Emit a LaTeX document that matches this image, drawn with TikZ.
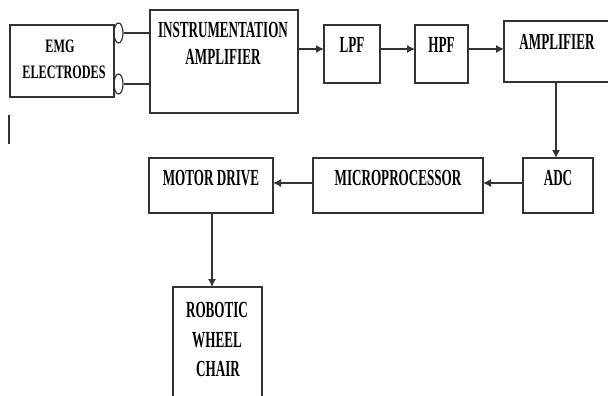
\documentclass[tikz,border=0pt]{standalone}
\usepackage{fontspec}
\setmainfont{Liberation Serif}[FakeStretch=0.57]
\newfontfamily\emgfont{Liberation Serif}[FakeStretch=0.64]
\usetikzlibrary{shapes.geometric,arrows.meta}
\tikzset{
  box/.style={draw=black!80, line width=1.3pt, inner sep=0pt, outer sep=0pt},
  lbl/.style={inner sep=0pt, font=\fontsize{23}{23}\selectfont\bfseries},
  slbl/.style={inner sep=0pt, font=\emgfont\fontsize{19}{19}\selectfont\bfseries},
  arr/.style={draw=black!80, line width=1.3pt, -{Latex[length=8pt,width=8pt]}},
  wire/.style={draw=black!80, line width=1.3pt},
  term/.style={draw=black!80, line width=1.2pt, ellipse, inner sep=0pt, minimum width=9pt, minimum height=20pt}
}
\begin{document}
\begin{tikzpicture}[x=1pt,y=-1pt]
\useasboundingbox (0,0) rectangle (608,396);
\clip (0,0) rectangle (608,396);
% boxes
\node[box, minimum width=104pt, minimum height=72pt] (EMG) at (62,61) {};
\node[box, minimum width=148pt, minimum height=103pt] (INA) at (224,61.5) {};
\node[box, minimum width=56pt, minimum height=58pt] (LPF) at (352,54) {};
\node[box, minimum width=53pt, minimum height=58pt] (HPF) at (441.5,54) {};
\node[box, minimum width=110pt, minimum height=61pt] (AMP) at (559,51.5) {};
\node[box, minimum width=70pt, minimum height=55pt] (ADC) at (558,185.5) {};
\node[box, minimum width=170pt, minimum height=55pt] (MCU) at (398,185.5) {};
\node[box, minimum width=124pt, minimum height=55pt] (MOT) at (211,185.5) {};
\node[box, minimum width=89pt, minimum height=118pt] (ROB) at (217.5,346) {};
% labels
\node[slbl] (t1) at (60,46) {EMG};
\node[slbl] (t2) at (64,72.5) {ELECTRODES};
\node[lbl] (t3) at (223,30) {INSTRUMENTATION};
\node[lbl] (t4) at (223,57) {AMPLIFIER};
\node[lbl] (t5) at (352,45) {LPF};
\node[lbl] (t6) at (441.5,45) {HPF};
\node[lbl] (t7) at (557,42) {AMPLIFIER};
\node[lbl] (t8) at (558,178) {ADC};
\node[lbl] (t9) at (398,178) {MICROPROCESSOR};
\node[lbl] (t10) at (211,178) {MOTOR DRIVE};
\node[lbl] (t11) at (217,310) {ROBOTIC};
\node[lbl] (t12) at (217,340) {WHEEL};
\node[lbl] (t13) at (218,369) {CHAIR};
% electrode terminals
\node[term] (c1) at (118.5,33) {};
\node[term] (c2) at (118.5,84) {};
\draw[wire] (c1.east) -- (c1.east -| INA.west);
\draw[wire] (c2.east) -- (c2.east -| INA.west);
% signal chain
\coordinate (r1) at (0,49);
\draw[arr] (INA.east |- r1) -- (LPF.west |- r1);
\draw[arr] (LPF.east |- r1) -- (HPF.west |- r1);
\draw[arr] (HPF.east |- r1) -- (AMP.west |- r1);
\coordinate (r2) at (556,0);
\draw[arr] (AMP.south -| r2) -- (ADC.north -| r2);
\coordinate (r3) at (0,183);
\draw[arr] (ADC.west |- r3) -- (MCU.east |- r3);
\draw[arr] (MCU.west |- r3) -- (MOT.east |- r3);
\coordinate (r4) at (212,0);
\draw[arr] (MOT.south -| r4) -- (ROB.north -| r4);
% stray mark
\coordinate (s1) at (9,115);
\coordinate (s2) at (9,144);
\draw[wire, line width=1.5pt] (s1) -- (s2);
\end{tikzpicture}
\end{document}
